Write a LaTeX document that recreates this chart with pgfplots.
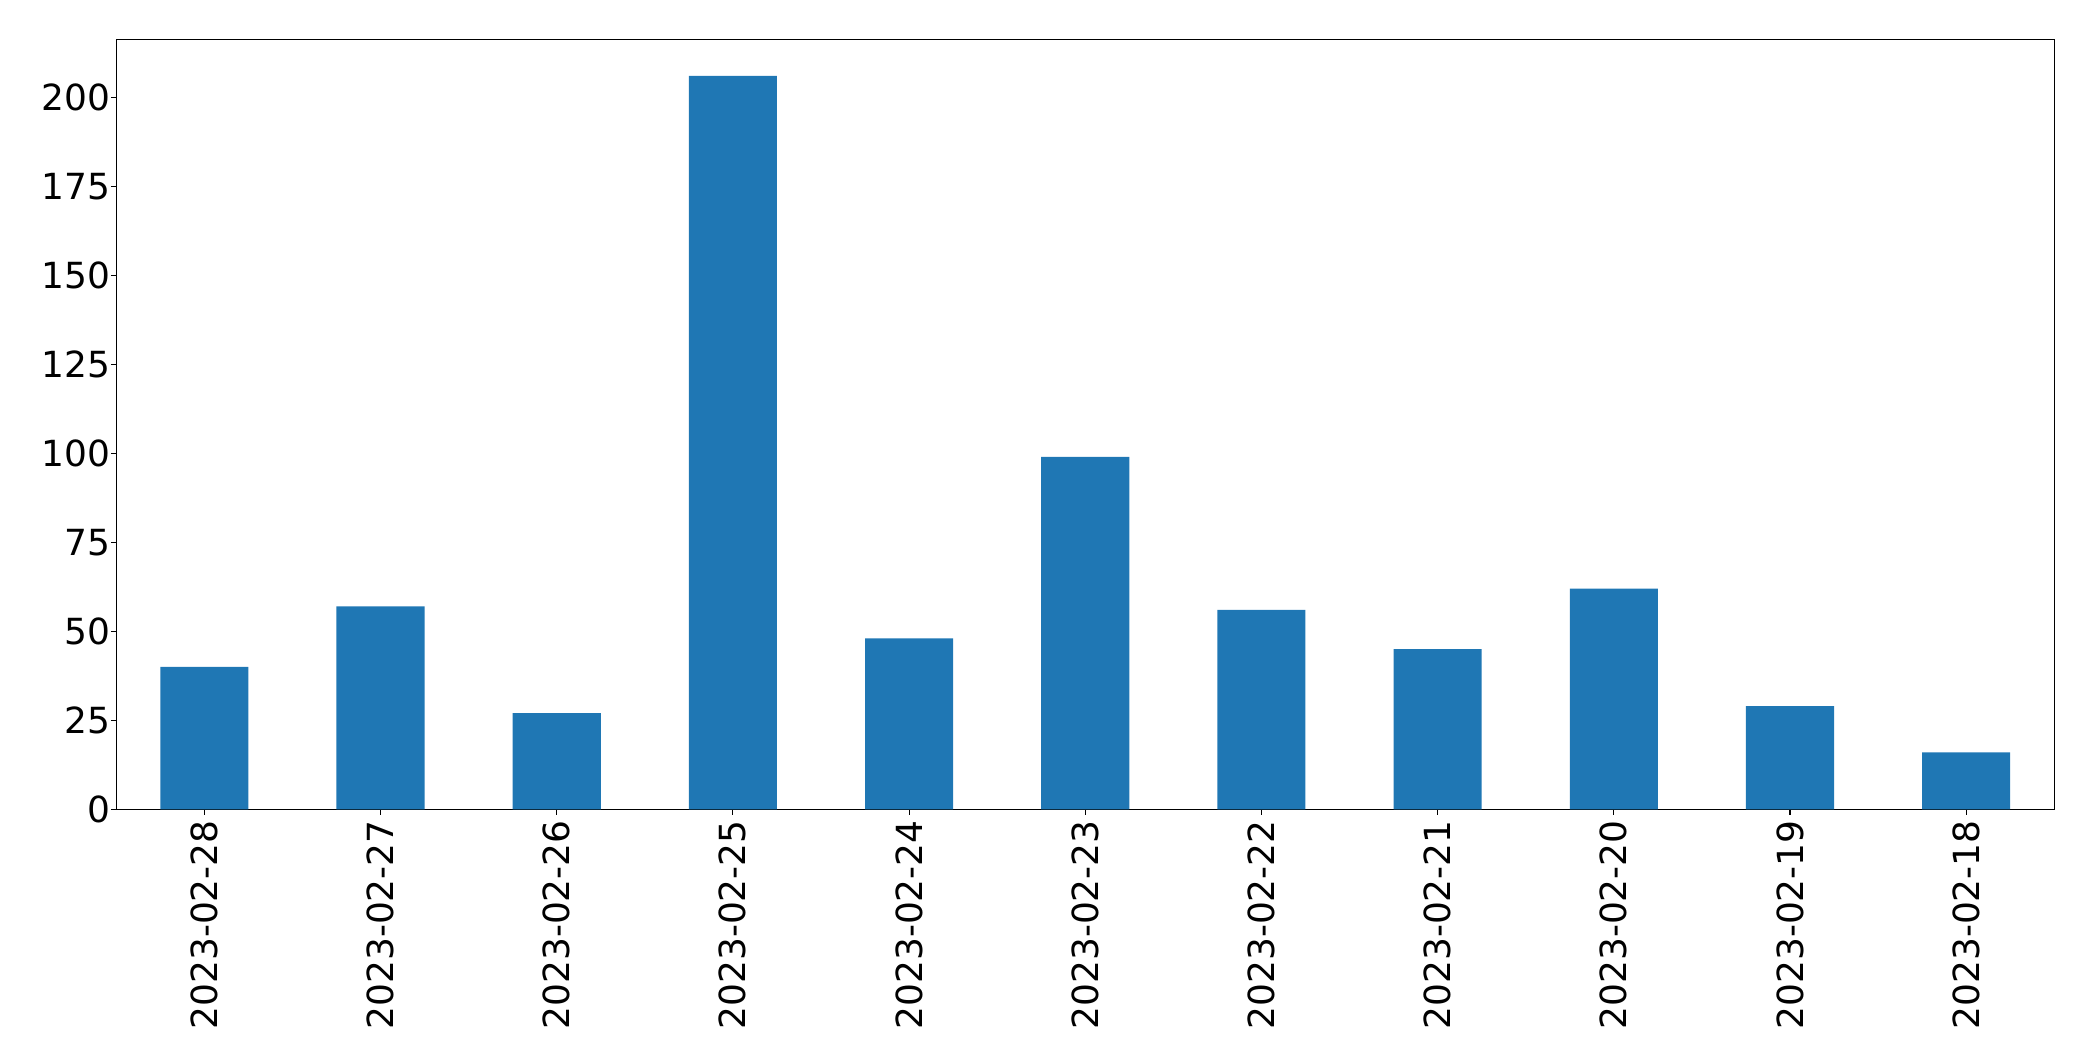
\documentclass[border=0pt]{standalone}
\usepackage{pgfplots}
\pgfplotsset{compat=1.18}
\usepackage{fontspec}
\setmainfont{DejaVu Sans}
\definecolor{mplblue}{HTML}{1F77B4}

\begin{document}
\begin{tikzpicture}
\begin{axis}[
  at={(0,0)}, anchor=south west,
  scale only axis,
  width=1395.4bp, height=554.4bp,
  ybar, bar width=0.5, bar shift=0pt,
  xmin=-0.5, xmax=10.5,
  ymin=0, ymax=216.3,
  xtick=data,
  xticklabels={2023-02-28,2023-02-27,2023-02-26,2023-02-25,2023-02-24,2023-02-23,2023-02-22,2023-02-21,2023-02-20,2023-02-19,2023-02-18},
  ytick={0,25,50,75,100,125,150,175,200},
  tick align=outside,
  major tick length=3.8bp,
  tick style={black, line width=0.8bp},
  axis line style={line width=0.8bp},
  xtick pos=bottom, ytick pos=left,
  /pgf/number format/assume math mode=true,
  tick label style={font=\fontsize{26}{31}\selectfont},
  xticklabel style={rotate=90, anchor=east, inner sep=0pt, xshift=-4bp},
  yticklabel style={inner sep=0pt, xshift=-0.5bp},
]
\addplot[fill=mplblue, draw=none] coordinates {
  (0,40) (1,57) (2,27) (3,206) (4,48) (5,99) (6,56) (7,45) (8,62) (9,29) (10,16)
};
\end{axis}
\pgfresetboundingbox
\path[use as bounding box] (-83.7bp,-181.2bp) rectangle (1423.3bp,582.7bp);
\end{tikzpicture}
\end{document}
